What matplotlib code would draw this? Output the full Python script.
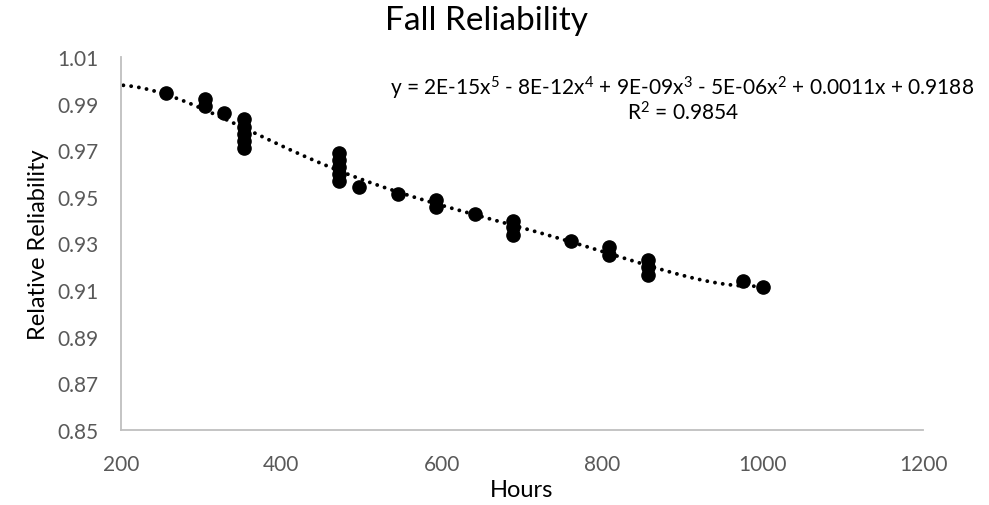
import numpy as np
import matplotlib
matplotlib.use("Agg")
import matplotlib.pyplot as plt

plt.rcParams['font.family'] = ['Lato', 'DejaVu Sans']
plt.rcParams['mathtext.fontset'] = 'custom'
plt.rcParams['mathtext.rm'] = 'Lato'

# Operating hours and relative reliability observations
hours = [256, 305, 305, 329, 353, 353, 353, 353, 353,
         472, 472, 472, 472, 472, 497, 546, 593, 593, 642,
         689, 689, 689, 761, 809, 809, 857, 857, 857, 976, 1000]
reliability = [0.9946, 0.9918, 0.9888, 0.9859, 0.9834, 0.9800, 0.9770, 0.9740, 0.9710,
               0.9687, 0.9657, 0.9627, 0.9597, 0.9568, 0.9544, 0.9513, 0.9487, 0.9455, 0.9427,
               0.9398, 0.9369, 0.9338, 0.9312, 0.9286, 0.9252, 0.9229, 0.9198, 0.9166, 0.9140, 0.9112]

# Polynomial trendline coefficients, constant term first (x in hours)
trend_coef = [0.918751, 1.053955e-3, -4.760898e-6, 8.754656e-9, -7.5001e-12, 2.445462e-15]
trend_range = [203, 1000]

x_ticks = [200, 400, 600, 800, 1000, 1200]
y_ticks = [0.85, 0.87, 0.89, 0.91, 0.93, 0.95, 0.97, 0.99, 1.01]

equation = (r"y = 2E-15x$\mathregular{^{5}}$ - 8E-12x$\mathregular{^{4}}$ + 9E-09x$\mathregular{^{3}}$"
            r" - 5E-06x$\mathregular{^{2}}$ + 0.0011x + 0.9188")
r_squared = r"R$\mathregular{^{2}}$ = 0.9854"

fig = plt.figure(figsize=(9.89, 5.06), dpi=100)
ax = fig.add_axes([0.1223, 0.1482, 0.811, 0.7372])

xs = np.linspace(trend_range[0], trend_range[1], 400)
ys = np.polynomial.polynomial.polyval(xs, trend_coef)
ax.plot(xs, ys, color='black', lw=2.8,
        linestyle=(0, (0.01, 2.0)), dash_capstyle='round', zorder=2)

ax.plot(hours, reliability, 'o', color='black', markersize=9.5, zorder=3)

ax.set_xlim(200, 1200)
ax.set_ylim(0.85, 1.01)
ax.set_xticks(x_ticks)
ax.set_yticks(y_ticks)
ax.set_xticklabels([str(v) for v in x_ticks])
ax.set_yticklabels([f"{v:.2f}" for v in y_ticks])
ax.tick_params(length=0, labelsize=15, labelcolor='#595959')
ax.tick_params(axis='y', pad=16)
ax.tick_params(axis='x', pad=17)

for s in ['top', 'right']:
    ax.spines[s].set_visible(False)
for s in ['left', 'bottom']:
    ax.spines[s].set_color('#BFBFBF')
    ax.spines[s].set_linewidth(1.3)

ax.set_xlabel('Hours', fontsize=17, color='black', labelpad=4)
ax.set_ylabel('Relative Reliability', fontsize=17, color='black', labelpad=6)

fig.text(0.4915, 0.958, 'Fall Reliability', fontsize=24, ha='center', va='center')
fig.text(0.6896, 0.826, equation, fontsize=15, ha='center', va='center')
fig.text(0.6906, 0.777, r_squared, fontsize=15, ha='center', va='center')

fig.savefig('out.png', dpi=100)
